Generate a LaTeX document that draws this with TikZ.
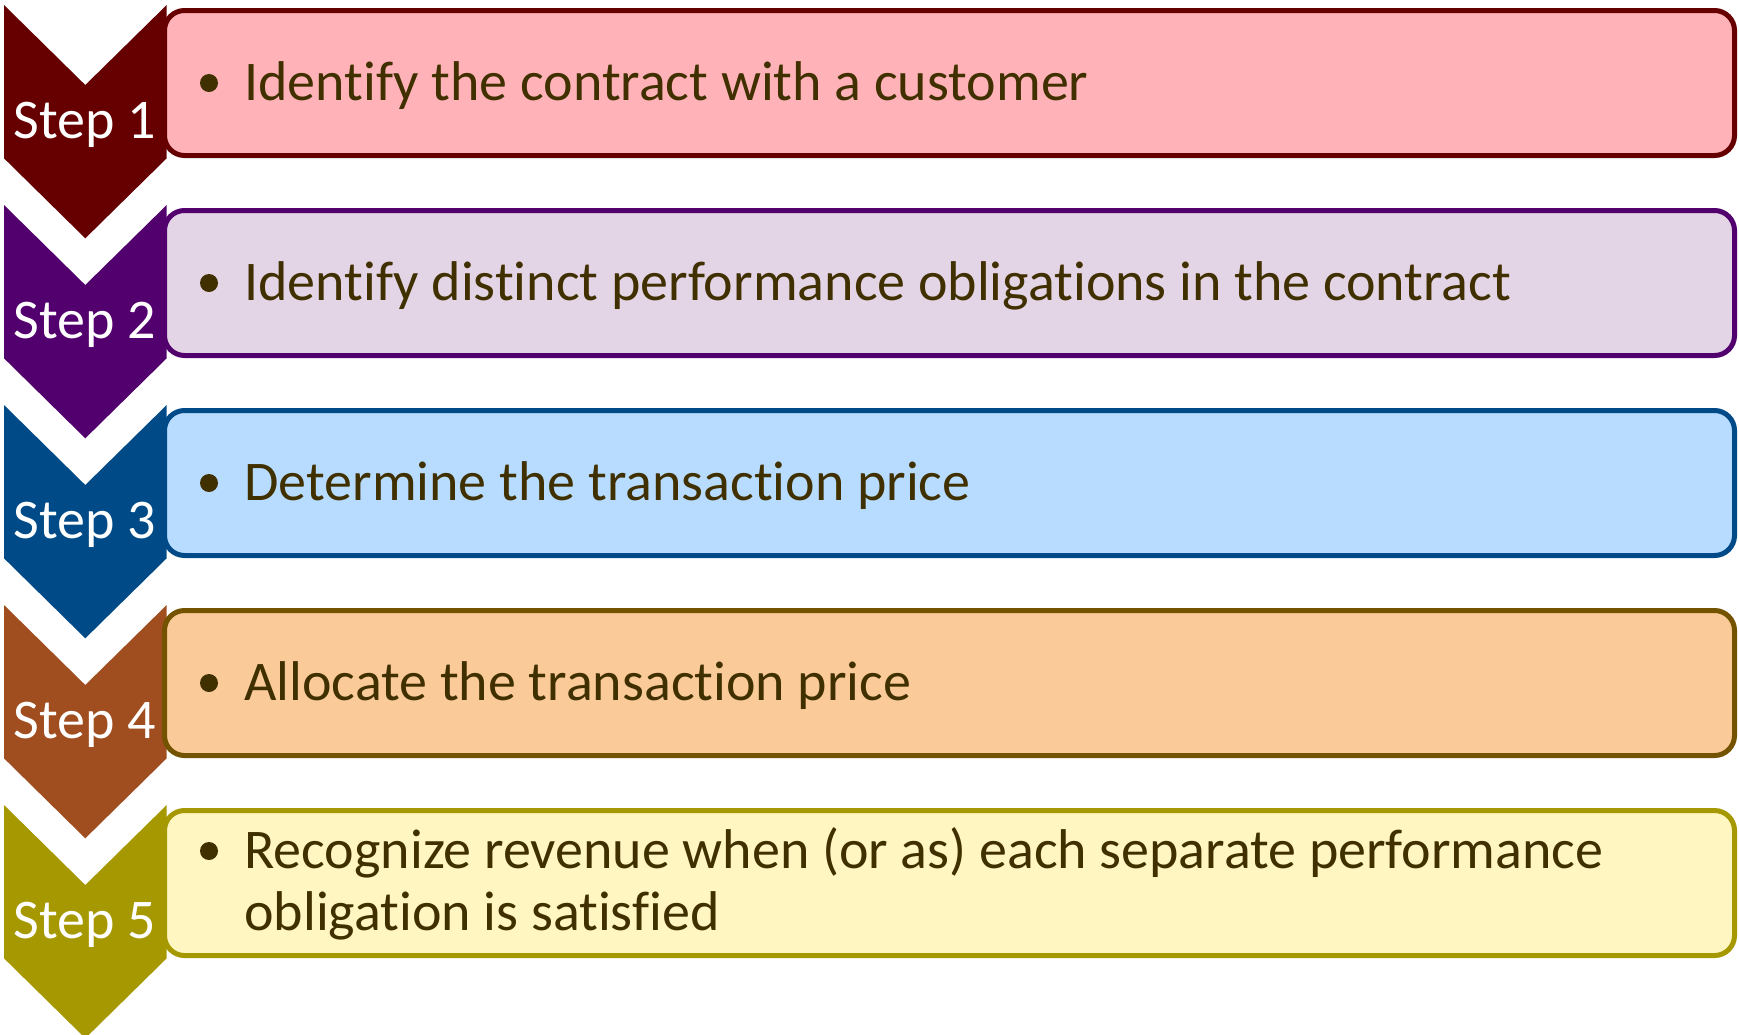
\documentclass[tikz,border=0pt]{standalone}
\usepackage{fontspec}
\setmainfont{Carlito}[Ligatures={NoCommon,NoContextual}]
\definecolor{chA}{HTML}{660000}
\definecolor{chB}{HTML}{52006E}
\definecolor{chC}{HTML}{004B87}
\definecolor{chD}{HTML}{A04D20}
\definecolor{chE}{HTML}{A69800}
\definecolor{fiA}{HTML}{FFB3B8}
\definecolor{fiB}{HTML}{E3D5E6}
\definecolor{fiC}{HTML}{B8DCFF}
\definecolor{fiD}{HTML}{FACB99}
\definecolor{fiE}{HTML}{FFF6C2}
\definecolor{bdD}{HTML}{735200}
\definecolor{txtc}{HTML}{403000}
\begin{document}
\begin{tikzpicture}[x=0.5pt,y=-0.5pt,
  boxst/.style={line width=2.5pt, rounded corners=10pt, minimum width=785pt, minimum height=72.5pt, inner sep=0pt},
  steplbl/.style={text=white, font=\fontsize{28pt}{30pt}\selectfont, anchor=base, inner sep=0pt},
  bodytxt/.style={text=txtc, font=\fontsize{28pt}{30pt}\selectfont, anchor=base west, inner sep=0pt},
  bul/.style={fill=txtc}]
\useasboundingbox (0,0) rectangle (1739,1034);
\foreach \k/\T/\cc/\fc/\dc in {1/5/chA/fiA/chA, 2/205/chB/fiB/chB, 3/405/chC/fiC/chC, 4/605/chD/fiD/bdD, 5/805/chE/fiE/chE}{
  \fill[\cc] (4,\T) -- (85.3,\T+80) -- (166.7,\T) -- (166.7,\T+153.3) -- (85.3,\T+233.3) -- (4,\T+153.3) -- cycle;
  \node[boxst, draw=\dc, fill=\fc] (box\k) at (949.5,\T+78) {};
  \node[steplbl] (step\k) at (85,\T+133) {Step \k};
}
\fill[bul] (209,83) circle[radius=4.5pt];
\fill[bul] (209,283) circle[radius=4.5pt];
\fill[bul] (209,483) circle[radius=4.5pt];
\fill[bul] (209,683) circle[radius=4.5pt];
\fill[bul] (209,851) circle[radius=4.5pt];
\node[bodytxt] (t1) at (244,100) {Identify the contract with a customer};
\node[bodytxt] (t2) at (244,300) {Identify distinct performance obligations in the contract};
\node[bodytxt] (t3) at (244,500) {Determine the transaction price};
\node[bodytxt] (t4) at (244,700) {Allocate the transaction price};
\node[bodytxt] (t5a) at (244,868) {Recognize revenue when (or as) each separate performance};
\node[bodytxt] (t5b) at (244,930) {obligation is satisfied};
\end{tikzpicture}
\end{document}
